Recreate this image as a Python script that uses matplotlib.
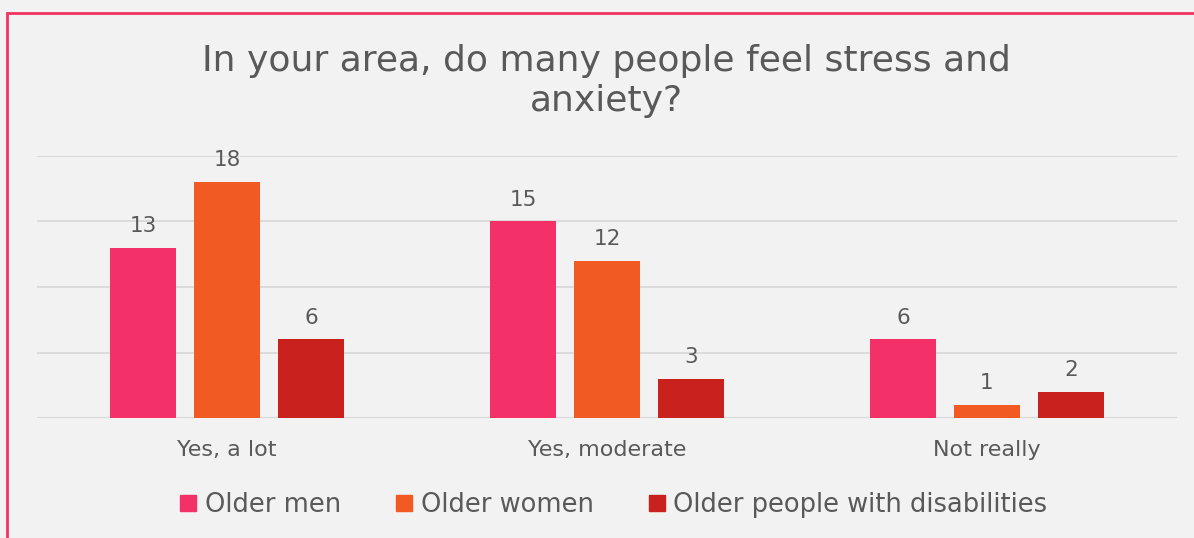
import matplotlib
matplotlib.use("Agg")
import matplotlib.pyplot as plt
import numpy as np
from matplotlib.patches import Rectangle
from matplotlib.lines import Line2D

categories = ["Yes, a lot", "Yes, moderate", "Not really"]
series_names = ["Older men", "Older women", "Older people with disabilities"]
older_men = [13, 15, 6]
older_women = [18, 12, 1]
older_disabled = [6, 3, 2]
colors = ["#f43068", "#f15a22", "#c9211e"]

plt.rcParams['font.family'] = ['DejaVu Sans']
text_color = "#595959"

fig = plt.figure(figsize=(11.94, 5.38), dpi=100)
fig.patch.set_facecolor("#f2f2f2")
fig.patches.append(Rectangle((7/1194, -0.01), 1.02, 1 - 13/538 + 0.01, transform=fig.transFigure,
                             fill=False, edgecolor="#f03462", linewidth=2.0, zorder=10))

ax = fig.add_axes([37/1194, 1 - 418/538, 1140/1194, 262/538])
ax.set_facecolor("#f2f2f2")

x = np.arange(len(categories))
w = 66/380
step = 84/380
for i, (vals, name) in enumerate(zip([older_men, older_women, older_disabled], series_names)):
    pos = x + (i - 1) * step
    bars = ax.bar(pos, vals, width=w, color=colors[i], label=name, zorder=3)
    for b, v in zip(bars, vals):
        ax.text(b.get_x() + b.get_width()/2, v + 0.9, str(v), ha="center", va="bottom",
                fontsize=15.5, color=text_color)

ax.set_xlim(-0.5, 2.5)
ax.set_ylim(0, 20)
ax.set_yticks([0, 5, 10, 15, 20])
ax.yaxis.grid(True, color="#d9d9d9", linewidth=1.3, zorder=0)
ax.tick_params(axis="y", left=False, labelleft=False)
ax.tick_params(axis="x", bottom=False, labelsize=16, labelcolor=text_color, pad=12)
ax.set_xticks(x)
ax.set_xticklabels(categories)
for s in ax.spines.values():
    s.set_visible(False)
ax.axhline(0, color="#d9d9d9", linewidth=1.5, zorder=2)

fig.text(606/1194, 1 - 81/538, "In your area, do many people feel stress and\nanxiety?",
         ha="center", va="center", fontsize=26, color=text_color, linespacing=1.25)

handles = [Line2D([0], [0], marker="s", color="none", markerfacecolor=c, markeredgecolor=c,
                  markersize=12) for c in colors]
fig.legend(handles, series_names, loc="center", bbox_to_anchor=(612/1194, 1 - 505/538),
           ncol=3, frameon=False, fontsize=18.5, labelcolor=text_color, handletextpad=0.2,
           columnspacing=2.0, handlelength=0.9)

fig.savefig("out.png", dpi=100, facecolor=fig.get_facecolor())
